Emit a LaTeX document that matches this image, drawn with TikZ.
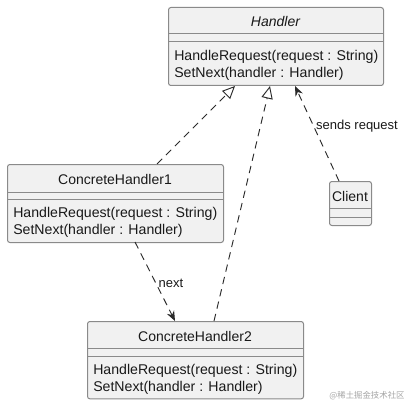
\documentclass[tikz,border=0pt]{standalone}
\usepackage{fontspec}
\setmainfont{Liberation Sans}
\newfontfamily\cjk{Noto Sans CJK SC}
\usetikzlibrary{arrows.meta}
\definecolor{boxgray}{HTML}{8A8A8A}
\definecolor{boxfill}{HTML}{F1F1F1}
\definecolor{linec}{HTML}{2A2A2A}
\tikzset{
  cls/.style={draw=boxgray, fill=boxfill, rounded corners=1.8pt, line width=0.75pt, anchor=north west, inner sep=0pt},
  sepl/.style={draw=boxgray, line width=0.75pt},
  ctitle/.style={font=\fontsize{10.5}{12}\selectfont, inner sep=0pt, text=black!90},
  mtext/.style={font=\fontsize{10.6}{12}\selectfont, inner sep=0pt, anchor=west, text=black!90},
  lbl/.style={font=\fontsize{9.75}{11}\selectfont, inner sep=0pt, text=black!90},
  conn/.style={draw=linec, line width=0.7pt, dash pattern=on 5.5pt off 4pt},
  realize/.style={conn, -{Triangle[open, length=9.5pt, width=8.5pt, line width=0.7pt, fill=white]}},
  assoc/.style={conn, -{Stealth[length=7.5pt, width=6pt, inset=2.5pt, fill=linec]}},
}
\begin{document}
\begin{tikzpicture}[x=0.75pt,y=-0.75pt]
\path[use as bounding box, fill=white] (0,0) rectangle (406,406);

% Handler
\node[cls, minimum width=161.25pt, minimum height=58.5pt] (h) at (168,7) {};
\draw[sepl] (168,34) -- (383,34);
\draw[sepl] (168,42) -- (383,42);
\node[ctitle, font=\fontsize{10.5}{12}\selectfont\itshape] (ht) at (275.5,22) {Handler};
\node[mtext] (hm1) at (174,57) {HandleRequest(request : String)};
\node[mtext] (hm2) at (174,74) {SetNext(handler : Handler)};

% ConcreteHandler1
\node[cls, minimum width=162pt, minimum height=58.5pt] (c1) at (7,164) {};
\draw[sepl] (7,192) -- (223,192);
\draw[sepl] (7,199) -- (223,199);
\node[ctitle] (c1t) at (115,179) {ConcreteHandler1};
\node[mtext] (c1m1) at (13,214) {HandleRequest(request : String)};
\node[mtext] (c1m2) at (13,231) {SetNext(handler : Handler)};

% ConcreteHandler2
\node[cls, minimum width=162pt, minimum height=58pt] (c2) at (87,321) {};
\draw[sepl] (87,348) -- (303,348);
\draw[sepl] (87,356) -- (303,356);
\node[ctitle] (c2t) at (195,336) {ConcreteHandler2};
\node[mtext] (c2m1) at (93,371) {HandleRequest(request : String)};
\node[mtext] (c2m2) at (93,388) {SetNext(handler : Handler)};

% Client
\node[cls, minimum width=31.5pt, minimum height=33pt] (cl) at (329,181) {};
\draw[sepl] (329,208) -- (371,208);
\draw[sepl] (329,217) -- (371,217);
\node[ctitle] (clt) at (350,196) {Client};

% connector end points
\coordinate (c1top) at (157,164);
\coordinate (c1bot) at (135,242);
\coordinate (c2top) at (214,321);
\coordinate (c2in) at (175,321);
\coordinate (cltop) at (339,181);
\coordinate (hin1) at (235,86);
\coordinate (hin2) at (270,86);
\coordinate (hin3) at (295,86);

\draw[realize] (c1top) -- (hin1);
\draw[realize] (c2top) -- (hin2);
\draw[assoc] (cltop) -- (hin3);
\draw[assoc] (c1bot) -- (c2in);

\node[lbl] (lnext) at (171,283) {next};
\node[lbl] (lsend) at (357,126) {sends request};

\node[font=\cjk\fontsize{6.3}{8}\selectfont, text=black!35, inner sep=0pt] (wm) at (367,396) {@稀土掘金技术社区};
\end{tikzpicture}
\end{document}
